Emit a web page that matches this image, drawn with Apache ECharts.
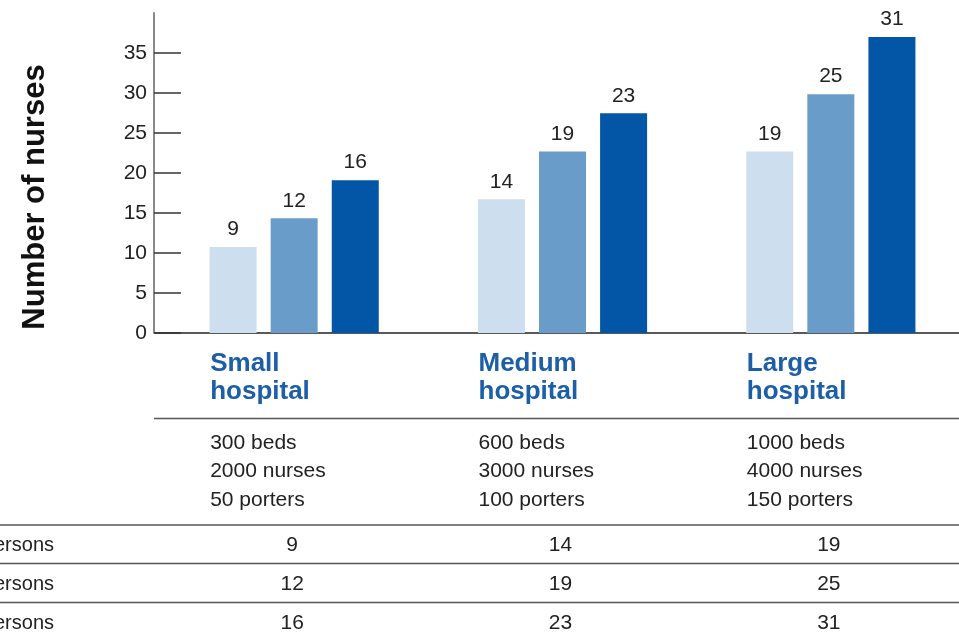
<!DOCTYPE html>
<html>
<head>
<meta charset="utf-8">
<script src="https://cdn.jsdelivr.net/npm/echarts@6/dist/echarts.min.js"></script>
<style>
  html, body { margin: 0; padding: 0; background: #fff; }
  #chart { width: 959px; height: 635px; }
</style>
</head>
<body>
<div id="chart"></div>
<script>
const categories = ["Small\nhospital", "Medium\nhospital", "Large\nhospital"];
const beds = ["300 beds", "600 beds", "1000 beds"];
const nurses = ["2000 nurses", "3000 nurses", "4000 nurses"];
const porters = ["50 porters", "100 porters", "150 porters"];
const rowLabels = ["ersons", "ersons", "ersons"];
const row1 = [9, 14, 19];
const row2 = [12, 19, 25];
const row3 = [16, 23, 31];
const yTicks = [0, 5, 10, 15, 20, 25, 30, 35];

const colors = ["#cddeee", "#6a9cca", "#0256a5"];
const font = "Liberation Sans, Arial, sans-serif";
const ink = "#222";

const chart = echarts.init(document.getElementById("chart"));

const makeBar = (name, data, color) => ({
  name,
  type: "bar",
  yAxisIndex: 1,
  data,
  barWidth: 47,
  barGap: "30%",
  itemStyle: { color },
  label: {
    show: true,
    position: "top",
    distance: 7,
    color: ink,
    fontSize: 21,
    fontFamily: font,
  },
});

chart.setOption({
  animation: false,
  grid: { left: 160, width: 805, top: 13, height: 320, outerBoundsMode: "none" },
  xAxis: {
    type: "category",
    data: categories,
    axisLine: { show: false },
    axisTick: { show: false },
    axisLabel: { show: false },
  },
  yAxis: [
    {
      type: "value",
      min: 0,
      max: 40,
      offset: 6,
      axisLine: { show: true, lineStyle: { color: "#888", width: 2 } },
      axisTick: {
        show: true,
        inside: true,
        length: 27,
        customValues: yTicks,
        lineStyle: { color: "#333", width: 1.5 },
      },
      axisLabel: {
        customValues: yTicks,
        margin: 7,
        color: ink,
        fontSize: 21,
        fontFamily: font,
      },
      splitLine: { show: false },
    },
    { type: "value", min: 0, max: 33.5, show: false, splitLine: { show: false } },
  ],
  series: [
    makeBar("row1", row1, colors[0]),
    makeBar("row2", row2, colors[1]),
    makeBar("row3", row3, colors[2]),
  ],
});

// table under the chart, placed from the category axis
const g = [];
const line = (x1, x2, y, color, w) =>
  g.push({ type: "line", shape: { x1, y1: y, x2, y2: y }, style: { stroke: color, lineWidth: w } });
const text = (t, x, y, size, opts = {}) =>
  g.push({
    type: "text",
    style: Object.assign(
      { text: t, x, y, fontSize: size, fontFamily: font, fill: ink, textVerticalAlign: "middle" },
      opts
    ),
  });

const base = chart.convertToPixel({ yAxisIndex: 0 }, 0);
line(154, 959, base, "#222", 1.5);
line(154, 959, 418.5, "#555", 1.5);
[525, 563.5, 602.5].forEach((y) => line(0, 959, y, "#555", 1.5));

const rows = [row1, row2, row3];
const rowY = [545, 584, 623];

categories.forEach((c, i) => {
  const cx = chart.convertToPixel({ xAxisIndex: 0 }, i);
  const left = cx - 84;
  const parts = c.split("\n");
  text(parts[0], left, 364, 26, { fontWeight: "bold", fill: "#1c5ea8" });
  text(parts[1], left, 391.5, 26, { fontWeight: "bold", fill: "#1c5ea8" });
  text(beds[i], left, 443, 21);
  text(nurses[i], left, 471.5, 21);
  text(porters[i], left, 500, 21);
  rows.forEach((r, k) => text(String(r[i]), cx - 2, rowY[k], 21, { textAlign: "center" }));
});

rowLabels.forEach((t, k) => text(t, -6, rowY[k], 20));

g.push({
  type: "text",
  x: 35,
  y: 197,
  rotation: Math.PI / 2,
  style: {
    text: "Number of nurses",
    x: 0,
    y: 0,
    fontSize: 31,
    fontWeight: "bold",
    fontFamily: font,
    fill: "#111",
    textAlign: "center",
    textVerticalAlign: "middle",
  },
});

chart.setOption({ graphic: g });
</script>
</body>
</html>
